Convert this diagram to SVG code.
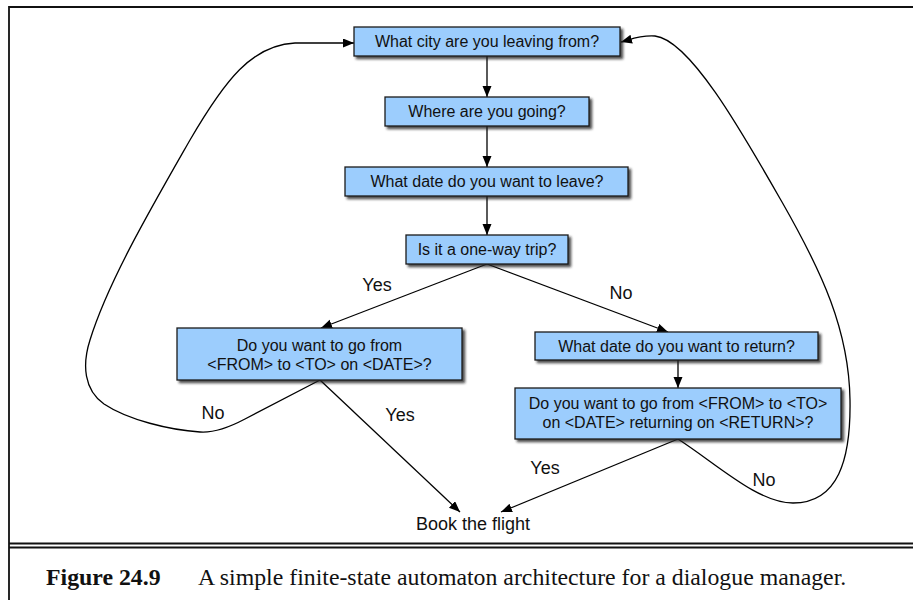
<svg xmlns="http://www.w3.org/2000/svg" width="913" height="600" viewBox="0 0 913 600">
<style>
.box{fill:#9ccdfd;stroke:#1a1a1a;stroke-width:1.3}
.bt{font-family:"Liberation Sans",Arial,sans-serif;font-size:16px;fill:#111;text-anchor:middle}
.lbl{font-family:"Liberation Sans",Arial,sans-serif;font-size:18px;fill:#111;text-anchor:middle}
.edge{fill:none;stroke:#000;stroke-width:1.3;marker-end:url(#arr)}
.frame{fill:none;stroke:#111;stroke-width:1.8}
.cap{font-family:"Liberation Serif","Times New Roman",serif;font-size:23.8px;fill:#111}
</style>
<defs>
<marker id="arr" markerUnits="userSpaceOnUse" markerWidth="12" markerHeight="10" refX="11" refY="4.5" orient="auto">
<path d="M0,0 L11,4.5 L0,9 z" fill="#000"/>
</marker>
<filter id="sh" x="-10%" y="-30%" width="130%" height="180%">
<feDropShadow dx="2.5" dy="2.5" stdDeviation="1.3" flood-color="#222" flood-opacity="0.8"/>
</filter>
</defs>
<rect width="913" height="600" fill="#fff"/>
<g id="frame">
<path class="frame" d="M9,600 L9,7 L913,7"/>
<line class="frame" x1="9" y1="543.5" x2="913" y2="543.5"/>
<line class="frame" x1="9" y1="547.5" x2="913" y2="547.5"/>
</g>
<g id="connectors">
<path class="edge" d="M487,56 L487,97"/>
<path class="edge" d="M487,126 L487,167"/>
<path class="edge" d="M487,196 L487,235"/>
<path class="edge" d="M487,264 L321,328"/>
<path class="edge" d="M487,264 L668,332"/>
<path class="edge" d="M678,360 L678,388"/>
<path class="edge" d="M320,380 L460,512"/>
<path class="edge" d="M678,439 L501,512"/>
<path class="edge" d="M320,380 L245,419 C228,428 214,433 200,432 C170,430 128,420 104,404 C84,390 82,365 90,340 C108,282 150,210 190,140 C225,80 252,45 295,43 L354,43"/>
<path class="edge" d="M678,439 C718,465 758,503 793,503 C838,503 851,460 850,400 C849,330 822,272 782,202 C742,132 690,40 655,36 C640,35 632,39 621,42"/>
</g>
<g id="n1"><rect class="box" filter="url(#sh)" x="354" y="27" width="266" height="29"/><text class="bt" x="487" y="47">What city are you leaving from?</text></g>
<g id="n2"><rect class="box" filter="url(#sh)" x="385" y="97" width="204" height="29"/><text class="bt" x="487" y="117">Where are you going?</text></g>
<g id="n3"><rect class="box" filter="url(#sh)" x="345" y="167" width="283" height="29"/><text class="bt" x="487" y="187">What date do you want to leave?</text></g>
<g id="n4"><rect class="box" filter="url(#sh)" x="406" y="235" width="162" height="29"/><text class="bt" x="487" y="255">Is it a one-way trip?</text></g>
<g id="n5"><rect class="box" filter="url(#sh)" x="177" y="328" width="285" height="52"/><text class="bt" x="319.5" y="351">Do you want to go from</text><text class="bt" x="319.5" y="370">&lt;FROM&gt; to &lt;TO&gt; on &lt;DATE&gt;?</text></g>
<g id="n6"><rect class="box" filter="url(#sh)" x="535" y="332" width="283" height="28"/><text class="bt" x="676.5" y="352">What date do you want to return?</text></g>
<g id="n7"><rect class="box" filter="url(#sh)" x="515" y="388" width="326" height="51"/><text class="bt" x="678" y="409">Do you want to go from &lt;FROM&gt; to &lt;TO&gt;</text><text class="bt" x="678" y="428">on &lt;DATE&gt; returning on &lt;RETURN&gt;?</text></g>
<g id="n8"><text class="lbl" x="473" y="530">Book the flight</text></g>
<g id="labels">
<text class="lbl" x="377" y="291">Yes</text>
<text class="lbl" x="621" y="299">No</text>
<text class="lbl" x="213" y="419">No</text>
<text class="lbl" x="400" y="421">Yes</text>
<text class="lbl" x="545" y="474">Yes</text>
<text class="lbl" x="764" y="486">No</text>
</g>
<g id="caption">
<text class="cap" x="46" y="585" font-weight="bold">Figure 24.9</text>
<text class="cap" x="198" y="585">A simple finite-state automaton architecture for a dialogue manager.</text>
</g>
</svg>
